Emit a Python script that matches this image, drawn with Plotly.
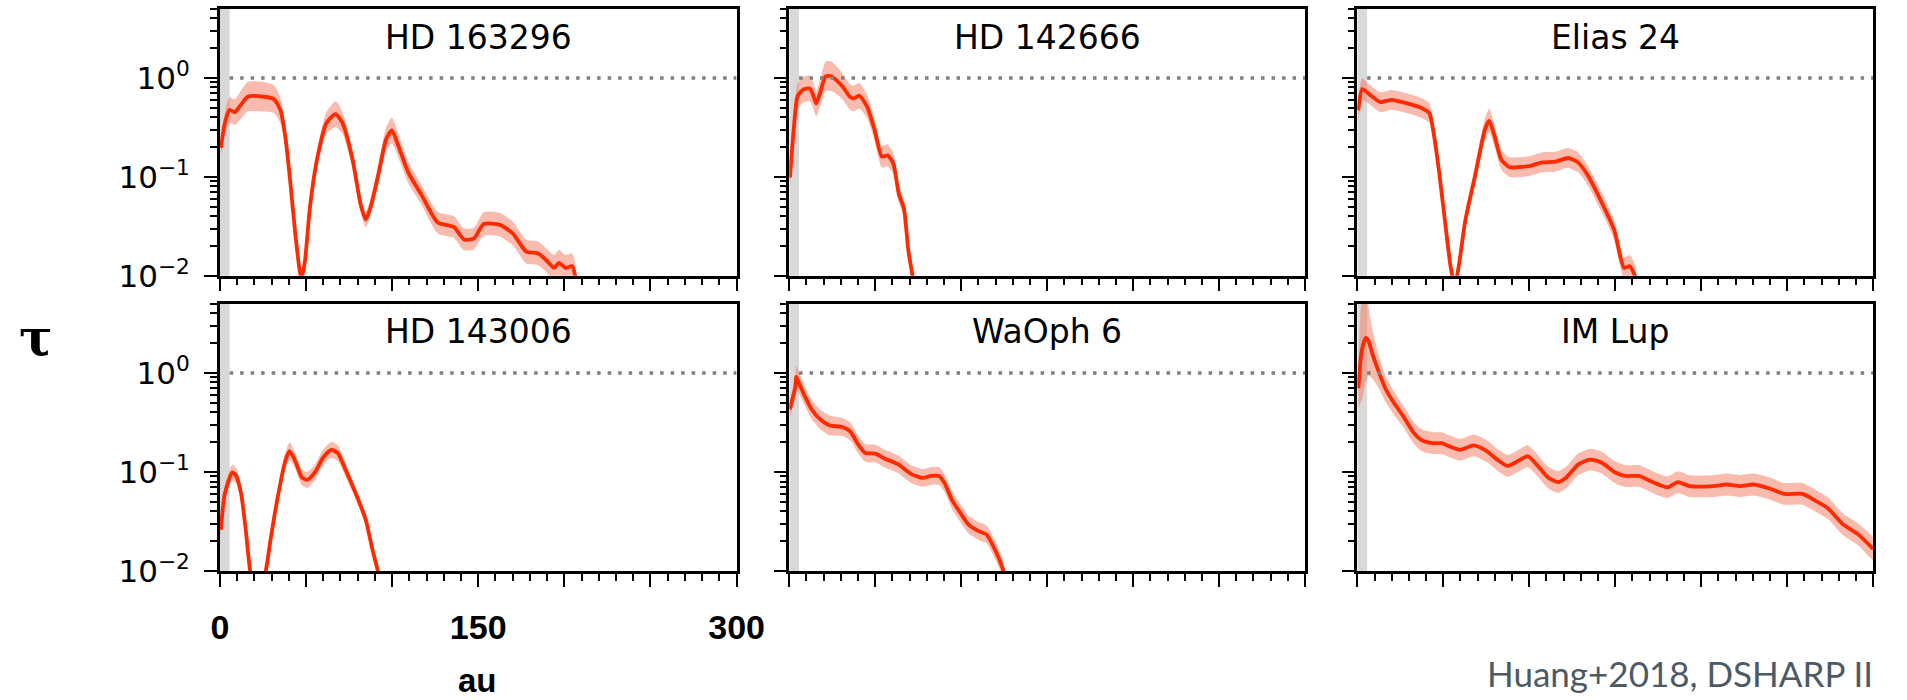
import numpy as np
import plotly.graph_objects as go

# ---------------- data ----------------
names = ["HD 163296", "HD 142666", "Elias 24", "HD 143006", "WaOph 6", "IM Lup"]

r_hd163296 = [0.6, 2.9, 5.7, 8.6, 11.4, 16.2, 25.7, 31.4, 35.2, 38.0, 40.9, 43.8, 46.6, 47.6,
              49.5, 52.3, 56.1, 61.8, 67.2, 71.3, 77.0, 81.8, 84.7, 87.5, 92.3, 96.5, 99.9,
              103.7, 109.4, 117.0, 126.5, 136.0, 141.7, 147.4, 153.2, 162.7, 170.3, 177.9,
              184.5, 189.3, 194.0, 196.9, 200.7, 204.5, 206.4]
tau_hd163296 = [0.197, 0.347, 0.476, 0.45, 0.51, 0.645, 0.645, 0.61, 0.47, 0.256, 0.089, 0.0265,
                0.0107, 0.0095, 0.0145, 0.049, 0.14, 0.347, 0.43, 0.347, 0.151, 0.052, 0.037,
                0.049, 0.111, 0.238, 0.294, 0.204, 0.111, 0.066, 0.0345, 0.031, 0.0233, 0.0237,
                0.0333, 0.0327, 0.0265, 0.0175, 0.0169, 0.0145, 0.012, 0.0135, 0.012, 0.0125,
                0.0098]
err_hd163296 = [0.09, 0.11, 0.13, 0.13, 0.14, 0.15, 0.15, 0.14, 0.13, 0.11, 0.09, 0.07, 0.06, 0.06,
                0.06, 0.07, 0.09, 0.11, 0.13, 0.11, 0.09, 0.08, 0.08, 0.08, 0.1, 0.12, 0.13,
                0.12, 0.11, 0.1, 0.11, 0.11, 0.11, 0.11, 0.12, 0.12, 0.12, 0.12, 0.12, 0.12, 0.13,
                0.13, 0.13, 0.13, 0.13]

r_hd142666 = [0.4, 2.6, 4.8, 8.1, 11.8, 13.5, 15.7, 17.9, 21.2, 24.5, 27.7, 31.0, 35.4, 37.6,
              40.8, 45.2, 49.6, 53.9, 57.2, 60.5, 63.8, 66.6, 69.2, 70.7, 71.8]
tau_hd142666 = [0.098, 0.30, 0.65, 0.76, 0.78, 0.70, 0.55, 0.70, 1.04, 1.04, 0.94, 0.82, 0.64,
                0.62, 0.66, 0.515, 0.30, 0.16, 0.165, 0.137, 0.066, 0.049, 0.0184, 0.0126,
                0.0098]
err_hd142666 = [0.09, 0.11, 0.13, 0.13, 0.13, 0.13, 0.13, 0.14, 0.15, 0.15, 0.14, 0.13, 0.13,
                0.13, 0.13, 0.12, 0.11, 0.11, 0.11, 0.11, 0.09, 0.09, 0.09, 0.09, 0.09]

r_elias24 = [0.57, 2.85, 6.7, 13.3, 20.0, 29.5, 37.1, 41.9, 44.7, 47.6, 51.4, 54.2, 56.7, 59.0,
             62.8, 68.5, 74.2, 76.7, 79.9, 83.7, 88.5, 93.2, 99.9, 107.5, 115.1, 122.7, 128.4,
             134.1, 141.7, 149.4, 155.1, 158.5, 161.7]
tau_elias24 = [0.47, 0.77, 0.69, 0.57, 0.60, 0.55, 0.50, 0.44, 0.256, 0.111, 0.031, 0.0125,
               0.008, 0.0125, 0.036, 0.103, 0.30, 0.37, 0.256, 0.15, 0.125, 0.125, 0.128, 0.14,
               0.142, 0.155, 0.14, 0.103, 0.057, 0.029, 0.012, 0.0125, 0.0098]
err_elias24 = [0.11, 0.11, 0.1, 0.1, 0.1, 0.1, 0.1, 0.1, 0.09, 0.08, 0.07, 0.07, 0.07, 0.07,
               0.08, 0.09, 0.11, 0.12, 0.11, 0.1, 0.1, 0.1, 0.1, 0.1, 0.1, 0.1, 0.1,
               0.1, 0.1, 0.1, 0.11, 0.11, 0.11]

r_hd143006 = [0.6, 2.85, 7.2, 9.5, 12.4, 15.2, 17.7, 22.0, 26.6, 29.5, 33.3, 38.0, 40.5, 43.8,
              47.6, 50.8, 55.2, 59.9, 64.7, 68.5, 73.3, 79.0, 84.7, 88.5, 91.9]
tau_hd143006 = [0.026, 0.06, 0.0987, 0.091, 0.06, 0.0245, 0.0098, 0.005, 0.0098, 0.021, 0.052,
                0.129, 0.162, 0.129, 0.088, 0.083, 0.0987, 0.139, 0.167, 0.155, 0.102, 0.06,
                0.033, 0.0167, 0.0098]
err_hd143006 = [0.06, 0.07, 0.08, 0.08, 0.07, 0.06, 0.06, 0.06, 0.06, 0.06, 0.07, 0.08, 0.09,
                0.08, 0.08, 0.08, 0.08, 0.08, 0.08, 0.08, 0.07, 0.06, 0.06, 0.06, 0.06]

r_waoph6 = [0.3, 3.6, 4.0, 5.3, 9.1, 13.0, 17.7, 23.4, 31.0, 35.7, 39.6, 44.3, 50.0, 55.7, 63.4,
            71.0, 77.6, 82.4, 87.1, 90.0, 94.7, 98.5, 104.2, 110.0, 114.7, 118.5, 122.3, 124.8]
tau_waoph6 = [0.43, 0.73, 0.91, 0.82, 0.58, 0.43, 0.343, 0.295, 0.284, 0.254, 0.195, 0.155,
              0.153, 0.136, 0.119, 0.095, 0.087, 0.091, 0.091, 0.079, 0.052, 0.041, 0.0295,
              0.0253, 0.0234, 0.018, 0.0129, 0.0098]
err_waoph6 = [0.09, 0.11, 0.11, 0.11, 0.1, 0.1, 0.1, 0.1, 0.09, 0.09, 0.09, 0.09, 0.09, 0.09,
              0.09, 0.09, 0.09, 0.09, 0.09, 0.09, 0.09, 0.09, 0.09, 0.09, 0.09, 0.09, 0.09, 0.09]

r_imlup = [0.6, 2.55, 4.9, 6.5, 8.8, 12.8, 16.7, 20.6, 26.5, 32.4, 37.3, 44.1, 49.0, 54.0, 59.8,
           67.7, 75.5, 81.4, 87.3, 93.2, 99.1, 105.0, 110.9, 116.7, 121.6, 128.5, 135.4, 142.2,
           150.1, 156.0, 163.8, 171.7, 180.5, 186.4, 193.2, 207.0, 214.8, 222.7, 230.5, 240.3,
           248.2, 259.0, 265.8, 273.7, 282.5, 291.3, 300.0]
tau_imlup = [0.70, 1.67, 2.26, 2.1, 1.55, 0.99, 0.676, 0.52, 0.37, 0.254, 0.21, 0.195, 0.195,
             0.18, 0.167, 0.185, 0.161, 0.133, 0.115, 0.128, 0.144, 0.115, 0.088, 0.079, 0.088,
             0.119, 0.133, 0.124, 0.0986, 0.091, 0.091, 0.079, 0.070, 0.079, 0.072, 0.072,
             0.0746, 0.072, 0.0746, 0.0676, 0.060, 0.060, 0.052, 0.043, 0.0295, 0.0234, 0.0167]
err_imlup = [0.2, 0.5, 0.45, 0.35, 0.25, 0.16, 0.13, 0.12, 0.11, 0.11, 0.11, 0.11, 0.11, 0.11,
             0.11, 0.11, 0.11, 0.11, 0.11, 0.11, 0.11, 0.11, 0.11, 0.11, 0.11, 0.11, 0.11, 0.11,
             0.11, 0.11, 0.11, 0.11, 0.11, 0.11, 0.11, 0.11, 0.11, 0.11, 0.11, 0.11, 0.11, 0.11,
             0.11, 0.11, 0.11, 0.11, 0.11]

radii = [r_hd163296, r_hd142666, r_elias24, r_hd143006, r_waoph6, r_imlup]
taus = [tau_hd163296, tau_hd142666, tau_elias24, tau_hd143006, tau_waoph6, tau_imlup]
errs = [err_hd163296, err_hd142666, err_elias24, err_hd143006, err_waoph6, err_imlup]

x_tickvals = [0, 50, 100, 150, 200, 250, 300]
x_ticktext = ["0", "", "", "150", "", "", "300"]
y_tickvals = [0.01, 0.1, 1]
y_ticktext = ["10<sup>−2</sup>", "10<sup>−1</sup>", "10<sup>0</sup>"]
y_minor_vals = [0.02, 0.03, 0.04, 0.05, 0.06, 0.07, 0.08, 0.09,
                0.2, 0.3, 0.4, 0.5, 0.6, 0.7, 0.8, 0.9, 2, 3, 4, 5]

# ---------------- layout constants ----------------
W, H = 1907, 700
X_RANGE = [0, 300]
Y_RANGE = [-2, float(np.log10(5))]
GRAY_AU = 5.7
col_px = [(215, 742), (795.7, 1321.7), (1375, 1901)]
row_px = [(9, 283), (311.7, 586)]
LINE_COLOR = "#ff2a00"
BAND_COLOR = "rgba(245,120,95,0.5)"

fig = go.Figure()
layout = dict(width=W, height=H, margin=dict(l=0, r=0, t=0, b=0),
              paper_bgcolor="white", plot_bgcolor="white", showlegend=False,
              shapes=[], annotations=[])

for i, name in enumerate(names):
    row, col = divmod(i, 3)
    sfx = "" if i == 0 else str(i + 1)
    xa, ya = "x" + sfx, "y" + sfx
    x0p, x1p = col_px[col]
    y0p, y1p = row_px[row]
    xdom = [x0p / W, x1p / W]
    ydom = [1 - y1p / H, 1 - y0p / H]
    first_col = col == 0
    bottom_left = (i == 3)

    layout["xaxis" + sfx] = dict(
        domain=xdom, range=X_RANGE, anchor=ya, showgrid=False, zeroline=False,
        showline=True, linecolor="black", linewidth=2.5, mirror=True,
        ticks="outside", ticklen=13, tickwidth=2, tickcolor="black",
        tickmode="array", tickvals=x_tickvals,
        ticktext=["<b>%s</b>" % t if t else " " for t in x_ticktext],
        showticklabels=bottom_left,
        tickfont=dict(family="Liberation Sans", size=34, color="black"),
        ticklabelstandoff=12,
        minor=dict(ticks="outside", ticklen=7, tickwidth=1.5, tickcolor="black",
                   dtick=10, tick0=0, showgrid=False),
    )
    layout["yaxis" + sfx] = dict(
        domain=ydom, type="log", range=Y_RANGE, anchor=xa, showgrid=False, zeroline=False,
        showline=True, linecolor="black", linewidth=2.5, mirror=True,
        ticks="outside", ticklen=13, tickwidth=2, tickcolor="black",
        tickmode="array", tickvals=y_tickvals, ticktext=y_ticktext,
        showticklabels=first_col,
        tickfont=dict(family="DejaVu Sans", size=31, color="black"),
        ticklabelstandoff=8,
        minor=dict(ticks="outside", ticklen=7, tickwidth=1.5, tickcolor="black",
                   tickmode="array", tickvals=y_minor_vals, showgrid=False),
    )

    # gray inner region and tau = 1 dotted line
    layout["shapes"].append(dict(type="rect", xref=xa, yref=ya + " domain",
                                 x0=0, x1=GRAY_AU, y0=0, y1=1, layer="below",
                                 fillcolor="#d9d9d9", line=dict(width=0)))
    layout["shapes"].append(dict(type="line", xref=xa, yref=ya,
                                 x0=GRAY_AU, x1=X_RANGE[1], y0=1, y1=1, layer="above",
                                 line=dict(color="#7f7f7f", width=3.5, dash="3.5px,7px")))

    r = np.array(radii[i], dtype=float)
    t = np.array(taus[i], dtype=float)
    e = np.array(errs[i], dtype=float)
    upper = t * 10 ** e
    lower = t / 10 ** e
    fig.add_trace(go.Scatter(
        x=np.concatenate([r, r[::-1]]), y=np.concatenate([upper, lower[::-1]]),
        xaxis=xa, yaxis=ya, mode="lines", fill="toself", fillcolor=BAND_COLOR,
        line=dict(width=0, shape="spline", smoothing=0.6), hoverinfo="skip"))
    fig.add_trace(go.Scatter(
        x=r, y=t, xaxis=xa, yaxis=ya, mode="lines",
        line=dict(color=LINE_COLOR, width=3.8, shape="spline", smoothing=0.6), name=name))

    # panel title
    layout["annotations"].append(dict(
        text=name, xref="paper", yref="paper", x=(x0p + x1p) / 2 / W,
        y=1 - (y0p + 29) / H, xanchor="center", yanchor="middle", showarrow=False,
        font=dict(family="DejaVu Sans", size=33, color="black")))

# axis labels and citation
layout["annotations"].append(dict(
    text="<b>τ</b>", xref="paper", yref="paper", x=28 / W, y=1 - 346 / H,
    xanchor="center", yanchor="middle", showarrow=False,
    font=dict(family="DejaVu Serif", size=50, color="black")))
layout["annotations"].append(dict(
    text="<b>au</b>", xref="paper", yref="paper", x=478 / W, y=1 - 698 / H,
    xanchor="center", yanchor="middle", showarrow=False,
    font=dict(family="Liberation Sans", size=33, color="black")))
layout["annotations"].append(dict(
    text="Huang+2018, DSHARP II", xref="paper", yref="paper", x=1903 / W, y=1 - 691 / H,
    xanchor="right", yanchor="middle", showarrow=False,
    font=dict(family="Lato", size=35, color="#4d5a66")))

fig.update_layout(**layout)
fig.write_html("out.html")
